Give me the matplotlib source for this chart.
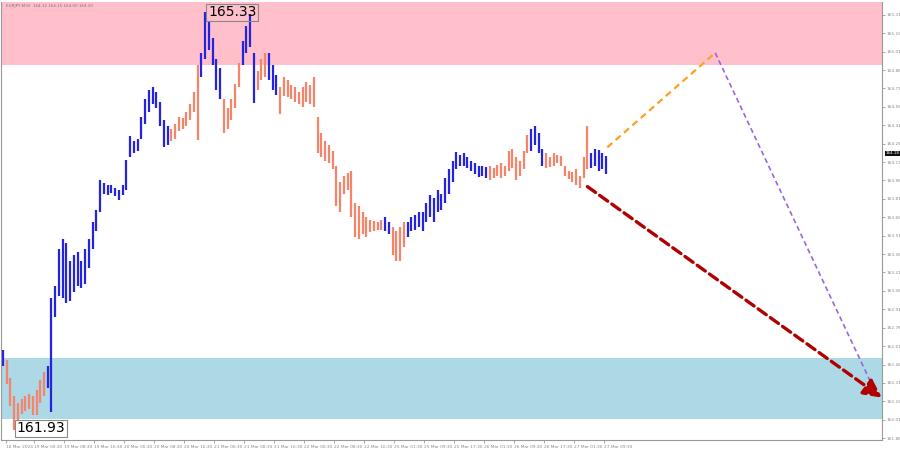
import matplotlib
matplotlib.use("Agg")
import matplotlib.pyplot as plt

# hourly bars, high / low, and wave colour (b = rising wave, s = falling wave)
highs = [162.58, 162.50, 162.35, 162.20, 162.15, 162.18, 162.20, 162.22, 162.20, 162.25,
         162.33, 162.40, 162.45, 163.00, 163.10, 163.40, 163.48, 163.45, 163.30, 163.35,
         163.38, 163.30, 163.40, 163.48, 163.62, 163.72, 163.96, 163.94, 163.92, 163.92,
         163.90, 163.88, 163.92, 164.13, 164.32, 164.28, 164.30, 164.48, 164.62, 164.70,
         164.72, 164.68, 164.60, 164.45, 164.40, 164.38, 164.42, 164.48, 164.47, 164.52,
         164.58, 164.68, 164.90, 165.00, 165.33, 165.25, 165.12, 164.95, 164.88, 164.62,
         164.55, 164.62, 164.75, 164.92, 165.10, 165.22, 165.32, 165.00, 164.85, 164.95,
         165.00, 165.00, 164.90, 164.82, 164.72, 164.80, 164.78, 164.74, 164.72, 164.68,
         164.72, 164.76, 164.74, 164.80, 164.48, 164.35, 164.28, 164.25, 164.20, 164.08,
         163.95, 164.00, 164.02, 164.04, 163.78, 163.75, 163.70, 163.66, 163.64, 163.63,
         163.62, 163.64, 163.66, 163.62, 163.58, 163.55, 163.58, 163.62, 163.62, 163.66,
         163.68, 163.70, 163.70, 163.78, 163.84, 163.82, 163.88, 163.85, 163.98, 164.05,
         164.12, 164.19, 164.17, 164.18, 164.15, 164.12, 164.10, 164.08, 164.08, 164.07,
         164.08, 164.06, 164.09, 164.10, 164.08, 164.20, 164.22, 164.15, 164.12, 164.20,
         164.33, 164.38, 164.40, 164.35, 164.22, 164.18, 164.15, 164.18, 164.17, 164.16,
         164.08, 164.04, 164.03, 164.05, 164.00, 164.15, 164.40, 164.18, 164.22, 164.21,
         164.18, 164.16]
lows = [162.45, 162.30, 162.12, 161.93, 162.00, 162.06, 162.08, 162.10, 162.05, 162.05,
        162.15, 162.20, 162.27, 162.07, 162.85, 163.02, 163.00, 162.96, 162.98, 163.05,
        163.10, 163.08, 163.12, 163.25, 163.40, 163.55, 163.70, 163.85, 163.84, 163.86,
        163.83, 163.80, 163.84, 163.88, 164.15, 164.18, 164.20, 164.30, 164.42, 164.52,
        164.58, 164.55, 164.40, 164.23, 164.25, 164.28, 164.30, 164.36, 164.38, 164.40,
        164.45, 164.52, 164.29, 164.80, 164.95, 165.02, 164.90, 164.70, 164.62, 164.35,
        164.38, 164.45, 164.55, 164.72, 164.90, 165.00, 165.05, 164.59, 164.70, 164.78,
        164.80, 164.78, 164.70, 164.66, 164.50, 164.65, 164.64, 164.62, 164.60, 164.58,
        164.56, 164.60, 164.58, 164.56, 164.18, 164.15, 164.12, 164.10, 164.05, 163.75,
        163.70, 163.85, 163.88, 163.66, 163.50, 163.48, 163.52, 163.50, 163.54, 163.55,
        163.56, 163.56, 163.55, 163.52, 163.35, 163.30, 163.30, 163.42, 163.50, 163.55,
        163.56, 163.58, 163.55, 163.62, 163.66, 163.62, 163.70, 163.72, 163.78, 163.85,
        163.95, 164.05, 164.08, 164.08, 164.06, 164.04, 164.01, 163.99, 164.00, 163.98,
        163.96, 163.98, 164.00, 163.98, 164.00, 164.04, 164.06, 163.96, 164.00, 164.05,
        164.18, 164.20, 164.25, 164.18, 164.08, 164.06, 164.07, 164.08, 164.10, 164.08,
        164.00, 163.97, 163.95, 163.92, 163.90, 163.98, 164.05, 164.06, 164.08, 164.04,
        164.05, 164.01]
waves = ("bsssssssssss" "bbbbbbbbbbbbbbbbbbbbbbbbbbbbbbbbb"
         "ssssssss" "bbbbbb" "sssss" "bbbb" "sss" "bbb" "ssssssssss"
         "ssssssssssssssssss" "bb" "ssss" "bbbbbbbbbbbbbbbbbbbbbb"
         "sssssssssss" "bbbb" "ssssssssssss" "bbbbb")

tick_pos = [0.8] + [8.3 + 8 * k for k in range(20)]
tick_labels = ["18 Mar 2024", "19 Mar 00:30", "19 Mar 08:30", "19 Mar 16:30",
               "20 Mar 00:30", "20 Mar 08:30", "20 Mar 16:30", "21 Mar 00:30",
               "21 Mar 08:30", "21 Mar 16:30", "22 Mar 00:30", "22 Mar 08:30",
               "22 Mar 16:30", "25 Mar 01:30", "25 Mar 09:30", "25 Mar 17:30",
               "26 Mar 01:30", "26 Mar 09:30", "26 Mar 17:30", "27 Mar 01:30",
               "27 Mar 09:30"]
price_ticks = [round(165.31 - 0.15 * k, 2) for k in range(24)]
last_price = 164.18

sell_zone = (164.90, 165.50)
buy_zone = (162.02, 162.51)
orange_leg = ([161.3, 190.1], [164.23, 165.00])
purple_leg = ([190.1, 232.0], [165.00, 162.29])
red_leg = ([156.0, 234.6], [163.91, 162.19])

BLUE = "#2424e0"
SALMON = "#f4846a"


def main():
    fig = plt.figure(figsize=(9, 4.53), dpi=100)
    ax = fig.add_axes([0.001, 0.029, 0.979, 0.967])

    ax.axhspan(*sell_zone, color="#ffc0cb", lw=0, zorder=0)
    ax.axhspan(*buy_zone, color="#add8e6", lw=0, zorder=0)

    n = len(highs)
    cols = [BLUE if waves[i] == "b" else SALMON for i in range(n)]
    ax.vlines(range(n), lows, highs, colors=cols, lw=1.6, zorder=2)

    # wave forecast
    ax.plot(*orange_leg, ls=(0, (3, 2)), color="#ffa020", lw=1.6, zorder=3)
    ax.plot(*purple_leg, ls=(0, (3, 2)), color="#9a66e0", lw=1.2, zorder=3)
    ax.annotate("", xy=(red_leg[0][1], red_leg[1][1]),
                xytext=(red_leg[0][0], red_leg[1][0]),
                arrowprops=dict(arrowstyle="-|>,head_length=1.1,head_width=0.55",
                                color="#b00000", lw=2.4, ls=(0, (3, 1.5)),
                                shrinkA=0, shrinkB=0), zorder=4)

    # extremes
    box = dict(boxstyle="square,pad=0.12", fc="none", ec="#888888", lw=0.8)
    ax.text(54.8, 165.33, "165.33", fontsize=10, va="center", ha="left", bbox=box, zorder=5)
    box2 = dict(boxstyle="square,pad=0.12", fc="white", ec="#888888", lw=0.8)
    ax.text(3.6, 161.94, "161.93", fontsize=10, va="center", ha="left", bbox=box2, zorder=5)

    ax.text(0.8, 165.385, "EURJPY,M30  164.12 164.15 164.00 164.10",
            fontsize=3.0, color="#777777", va="center")

    ax.set_xlim(-0.5, 234.6)
    ax.set_ylim(161.846, 165.416)

    ax.yaxis.tick_right()
    ax.set_yticks(price_ticks)
    ax.set_yticklabels([f"{p:.2f}" for p in price_ticks])
    ax.tick_params(axis="y", labelsize=3.1, colors="#888888", length=2, width=0.5, pad=1)
    ax.set_xticks(tick_pos)
    ax.set_xticklabels(tick_labels, ha="left")
    ax.tick_params(axis="x", labelsize=3.1, colors="#888888", length=2, width=0.5, pad=2)

    # current price marker
    ax.text(1.004, last_price, f"{last_price:.2f}", transform=ax.get_yaxis_transform(),
            fontsize=3.0, color="white", va="center", ha="left",
            bbox=dict(boxstyle="square,pad=0.08", fc="#111111", ec="none"), clip_on=False)

    for s in ax.spines.values():
        s.set_color("#999999")
        s.set_linewidth(0.8)
    ax.spines["top"].set_visible(False)

    fig.savefig("out.png", dpi=100)


if __name__ == "__main__":
    main()
